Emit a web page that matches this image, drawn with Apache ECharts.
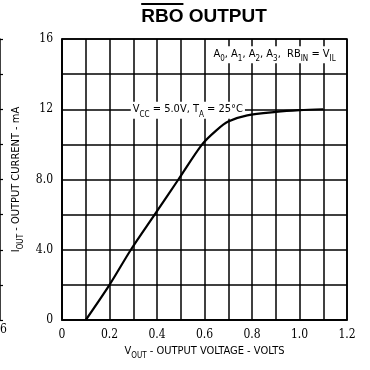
<!DOCTYPE html>
<html>
<head>
<meta charset="utf-8">
<script src="https://cdn.jsdelivr.net/npm/echarts@6/dist/echarts.min.js"></script>
<style>
  html, body { margin: 0; padding: 0; background: #fff; }
  #main { width: 370px; height: 370px; }
</style>
</head>
<body>
<div id="main"></div>
<script>
// V_OUT (volts) vs I_OUT (mA)
var vOut = [0.1, 0.2, 0.29, 0.39, 0.49, 0.59, 0.65, 0.7, 0.78, 0.9, 1.0, 1.1];
var iOut = [0, 2.0, 4.0, 6.0, 8.0, 10.0, 10.8, 11.3, 11.65, 11.85, 11.95, 12.0];

var yTickValues = [0, 4, 8, 12, 16];
var yTickText = ['0', '4.0', '8.0', '12', '16'];
var xTickValues = [0, 0.2, 0.4, 0.6, 0.8, 1.0, 1.2];
var xTickText = ['0', '0.2', '0.4', '0.6', '0.8', '1.0', '1.2'];

var labelFont = '"DejaVu Sans Condensed", "Liberation Sans Narrow", sans-serif';
var tickFont = '"DejaVu Serif Condensed", "Liberation Serif", serif';
var titleFont = 'bold 19px "Liberation Sans", Arial, sans-serif';

var chart = echarts.init(document.getElementById('main'), null, { renderer: 'canvas' });

// where the overline over "RBO" goes
var cv = document.createElement('canvas').getContext('2d');
cv.font = titleFont;
var titleX = 204;
var fullW = cv.measureText('RBO OUTPUT').width;
var rboW = cv.measureText('RBO').width;
var titleLeft = titleX - fullW / 2;

var sub = { fontSize: 8, fontFamily: labelFont, color: '#000', padding: [7, 0, 0, 0] };
var main = { fontSize: 11, fontFamily: labelFont, color: '#000', padding: [0, 0, 3, 0] };

function pick(values, texts, v) {
  for (var i = 0; i < values.length; i++) {
    if (Math.abs(values[i] - v) < 1e-6) return texts[i];
  }
  return '';
}

var data = vOut.map(function (v, i) { return [v, iOut[i]]; });

var option = {
  backgroundColor: '#fff',
  animation: false,
  graphic: [
    {
      type: 'text',
      style: { x: titleX, y: 7, text: 'RBO OUTPUT', font: titleFont, fill: '#000', textAlign: 'center' }
    },
    {
      type: 'rect',
      shape: { x: titleLeft, y: 3, width: rboW, height: 2 },
      style: { fill: '#000' }
    },
    {
      type: 'text',
      style: { x: 0, y: 324, text: '6', font: '12px ' + tickFont, fill: '#000' }
    }
  ],
  grid: [
    { left: 62, right: 23, top: 39, bottom: 50, show: true, borderColor: '#000', borderWidth: 1.6 },
    { left: 0, top: 39, bottom: 50, width: 3 }
  ],
  xAxis: [
    {
      type: 'value', min: 0, max: 1.2, interval: 0.1,
      name: '{m|V}{s|OUT}{m| - OUTPUT VOLTAGE - VOLTS}',
      nameLocation: 'middle', nameGap: 25,
      nameTextStyle: { rich: { m: main, s: sub } },
      axisLine: { show: true, lineStyle: { color: '#000', width: 1.6 } },
      axisTick: { show: false },
      axisLabel: {
        margin: 9, color: '#000', fontSize: 12, fontFamily: tickFont,
        formatter: function (v) { return pick(xTickValues, xTickText, v); }
      },
      splitLine: { show: true, lineStyle: { color: '#000', width: 1.5 } }
    },
    { gridIndex: 1, type: 'value', show: false, min: 0, max: 1 }
  ],
  yAxis: [
    {
      type: 'value', min: 0, max: 16, interval: 2,
      name: '{m|I}{s|OUT}{m| - OUTPUT CURRENT - mA}',
      nameLocation: 'middle', nameGap: 34, nameRotate: 90,
      nameTextStyle: { rich: { m: main, s: sub } },
      axisLine: { show: true, lineStyle: { color: '#000', width: 1.6 } },
      axisTick: { show: false },
      axisLabel: {
        margin: 9, color: '#000', fontSize: 12, fontFamily: tickFont,
        formatter: function (v) { return pick(yTickValues, yTickText, v); }
      },
      splitLine: { show: true, lineStyle: { color: '#000', width: 1.5 } }
    },
    {
      gridIndex: 1, type: 'value', min: 0, max: 16, interval: 2, position: 'right',
      axisLine: { show: true, lineStyle: { color: '#000', width: 1.5 } },
      axisTick: { show: true, inside: false, length: 3, lineStyle: { color: '#000', width: 1.2 } },
      axisLabel: { show: false },
      splitLine: { show: false }
    }
  ],
  series: [
    {
      type: 'line',
      data: data,
      smooth: 0.3,
      showSymbol: false,
      symbol: 'none',
      lineStyle: { color: '#000', width: 2.2 },
      z: 5,
      markPoint: {
        symbol: 'rect', symbolSize: 0,
        label: { show: true, position: 'inside' },
        data: [
          {
            coord: [0.895, 15.1],
            label: {
              formatter: '{m|A}{s|0}{m|, A}{s|1}{m|, A}{s|2}{m|, A}{s|3}{m|,  RB}{s|IN}{m| = V}{s|IL}',
              backgroundColor: '#fff', padding: [2, 2, 0, 2],
              rich: { m: main, s: sub }
            }
          },
          {
            coord: [0.53, 11.95],
            label: {
              formatter: '{m|V}{s|CC}{m| = 5.0V, T}{s|A}{m| = 25°C}',
              backgroundColor: '#fff', padding: [2, 2, 0, 2],
              rich: { m: main, s: sub }
            }
          }
        ]
      }
    }
  ]
};

chart.setOption(option);
</script>
</body>
</html>
